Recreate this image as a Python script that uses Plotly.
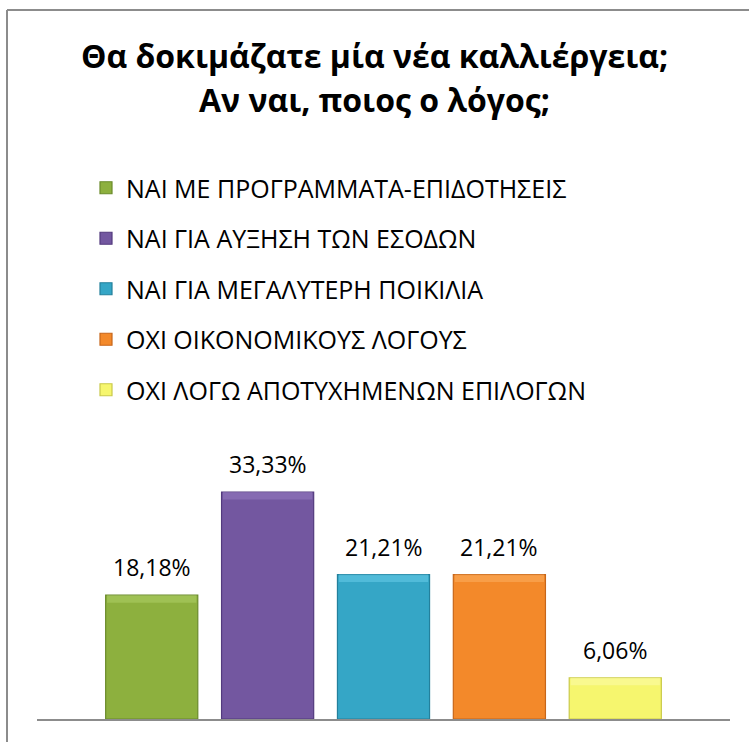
import plotly.graph_objects as go

# Survey answers and their shares (%)
categories = [
    "ΝΑΙ ΜΕ ΠΡΟΓΡΑΜΜΑΤΑ-ΕΠΙΔΟΤΗΣΕΙΣ",
    "ΝΑΙ ΓΙΑ ΑΥΞΗΣΗ ΤΩΝ ΕΣΟΔΩΝ",
    "ΝΑΙ ΓΙΑ ΜΕΓΑΛΥΤΕΡΗ ΠΟΙΚΙΛΙΑ",
    "ΟΧΙ ΟΙΚΟΝΟΜΙΚΟΥΣ ΛΟΓΟΥΣ",
    "ΟΧΙ ΛΟΓΩ ΑΠΟΤΥΧΗΜΕΝΩΝ ΕΠΙΛΟΓΩΝ",
]
values = [18.18, 33.33, 21.21, 21.21, 6.06]
title_lines = ["Θα δοκιμάζατε μία νέα καλλιέργεια;", "Αν ναι, ποιος ο λόγος;"]

colors = ["#8DB03E", "#7357A0", "#35A6C6", "#F3892A", "#F6F66E"]
edges = ["#6A8A2A", "#533A7E", "#23809C", "#C7661A", "#C9C94A"]
highlights = ["#B2D16A", "#9A80C4", "#6ED0EC", "#FDB366", "#FCFCB0"]

FONT = "Open Sans"
W, H = 749, 742
BASE_PX = 719      # pixel row of the category axis
TOP_PX = 440       # pixel row of the top of the value axis
PX_PER_UNIT = 6.81
BAR_W = 0.795
BEVEL = 1.1        # height of the lit top edge, in value units

fig = go.Figure()
for i, (name, v) in enumerate(zip(categories, values)):
    fig.add_trace(go.Bar(
        x=[i], y=[v], name=name, width=BAR_W,
        marker=dict(color=colors[i], line=dict(color=edges[i], width=1.2)),
        legendgroup=str(i), hoverinfo="skip",
    ))
    # lighter bevel strip along the top of each bar
    fig.add_trace(go.Bar(
        x=[i], y=[BEVEL], base=[v - BEVEL], width=BAR_W * 0.97,
        marker=dict(color=highlights[i], opacity=0.5, line=dict(width=0)),
        showlegend=False, legendgroup=str(i), hoverinfo="skip",
    ))
    fig.add_annotation(
        x=i, y=v, text=f"{v:.2f}%".replace(".", ","),
        showarrow=False, yanchor="bottom", yshift=10,
        font=dict(family=FONT, size=23, color="#000000"),
    )

# two-line bold heading
for line, y_px in zip(title_lines, [56, 99]):
    fig.add_annotation(
        xref="paper", yref="paper", x=0.5, y=1 - y_px / H,
        xanchor="center", yanchor="middle", showarrow=False, text=line,
        font=dict(family=FONT, size=32, color="#000000", weight="bold"),
    )

fig.update_layout(
    width=W, height=H,
    margin=dict(l=0, r=0, t=0, b=0),
    paper_bgcolor="white", plot_bgcolor="white",
    barmode="overlay",
    legend=dict(
        x=86 / W, xanchor="left", y=1 - 165 / H, yanchor="top",
        font=dict(family=FONT, size=25, color="#000000"),
        tracegroupgap=15, itemclick=False, bgcolor="rgba(0,0,0,0)",
    ),
    showlegend=True,
    xaxis=dict(
        domain=[37 / W, 730 / W], range=[-0.99, 4.99],
        showticklabels=False, showgrid=False, zeroline=False,
        showline=True, linecolor="#8C8C8C", linewidth=2, ticks="",
    ),
    yaxis=dict(
        domain=[(H - BASE_PX) / H, (H - TOP_PX) / H],
        range=[0, (BASE_PX - TOP_PX) / PX_PER_UNIT],
        showticklabels=False, showgrid=False, zeroline=False, showline=False,
    ),
    shapes=[
        # chart frame (top and left edges)
        dict(type="line", xref="paper", yref="paper", x0=7 / W, x1=1, y0=1 - 10 / H, y1=1 - 10 / H,
             line=dict(color="#8C8C8C", width=2)),
        dict(type="line", xref="paper", yref="paper", x0=7 / W, x1=7 / W, y0=0, y1=1 - 10 / H,
             line=dict(color="#8C8C8C", width=2)),
    ],
)

fig.write_html("out.html")
